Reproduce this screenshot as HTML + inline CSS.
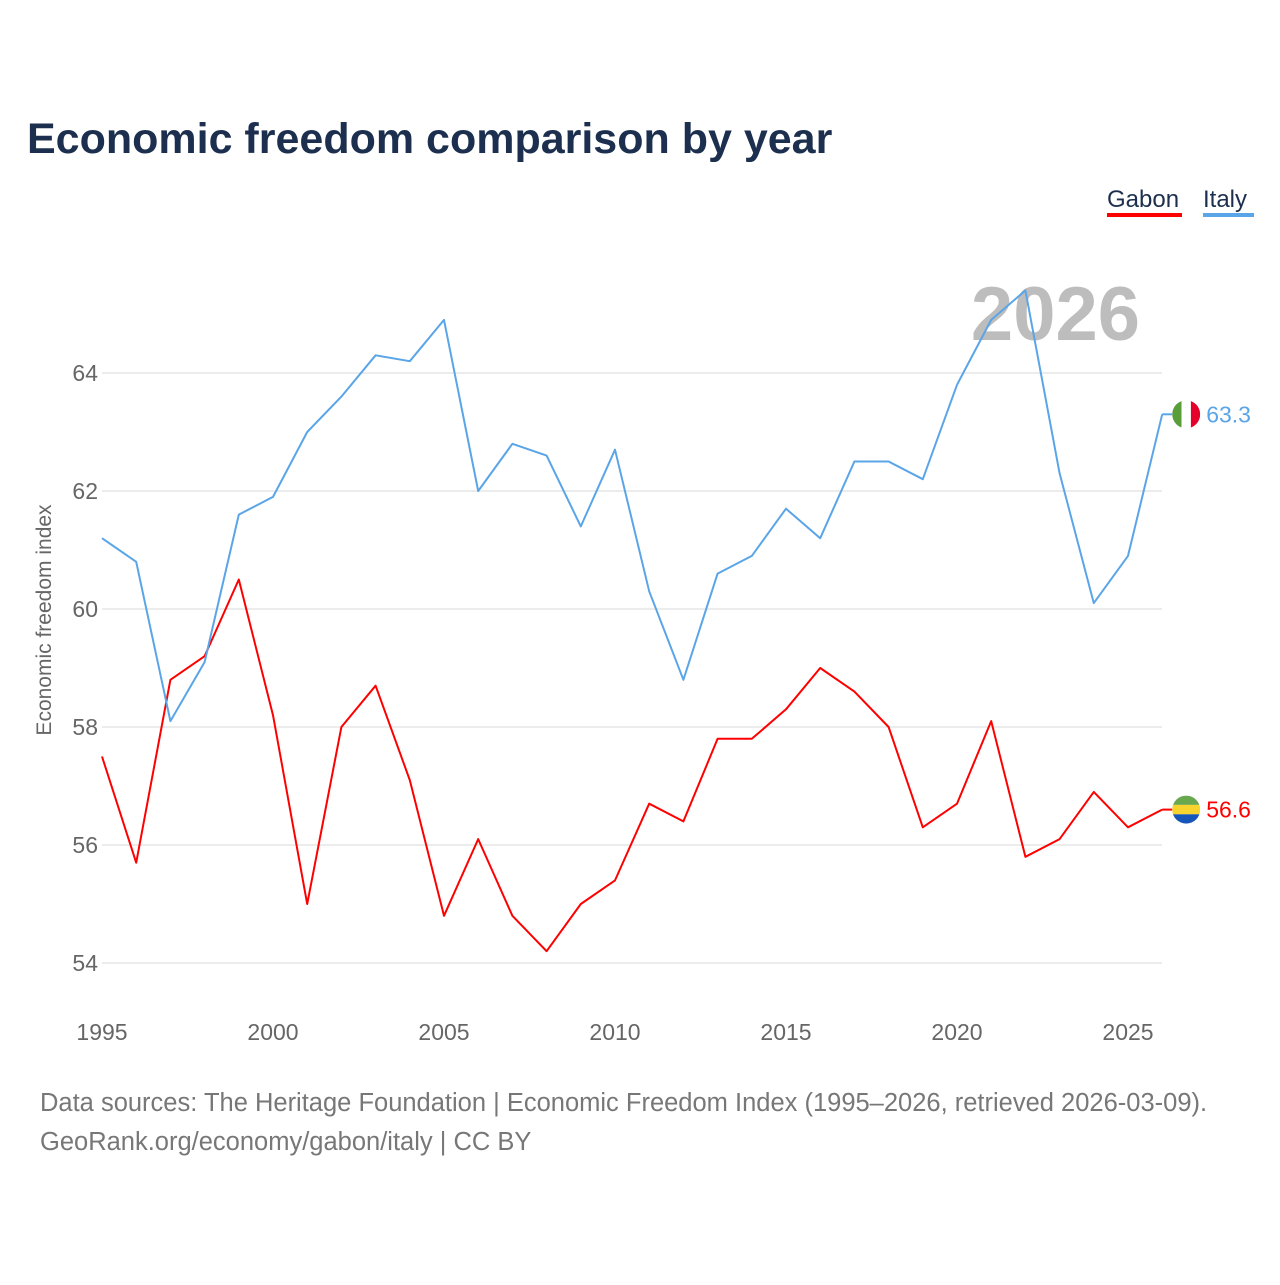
<!DOCTYPE html>
<html><head><meta charset="utf-8"><style>
body{margin:0;background:#fff;font-family:"Liberation Sans",sans-serif;}
svg text{font-family:"Liberation Sans",sans-serif;}
</style></head><body>
<svg width="1280" height="1280" xmlns="http://www.w3.org/2000/svg">
<defs>
<clipPath id="ci"><circle id="cic" cx="0" cy="0" r="14"/></clipPath>
<clipPath id="cg"><circle id="cgc" cx="0" cy="0" r="14"/></clipPath>
</defs>
<rect width="1280" height="1280" fill="#fff"/>
<text x="27" y="153" font-size="43" font-weight="bold" fill="#1c2f4e">Economic freedom comparison by year</text>
<g><text x="1107" y="207" font-size="24" fill="#1c2f4e">Gabon</text><rect x="1107" y="213" width="75" height="4" fill="#f00"/></g>
<g><text x="1203" y="207" font-size="24" fill="#1c2f4e">Italy</text><rect x="1203" y="213" width="51" height="4" fill="#5aa5e8"/></g>
<text x="1140" y="340" font-size="76" font-weight="bold" fill="#bdbdbd" text-anchor="end">2026</text>
<text transform="translate(51,620) rotate(-90)" font-size="21" fill="#666" text-anchor="middle">Economic freedom index</text>
<g id="grid"></g><g id="xt"></g><g id="lines"></g>
<text x="40" y="1111" font-size="25.5" fill="#777">Data sources: The Heritage Foundation | Economic Freedom Index (1995–2026, retrieved 2026-03-09).</text>
<text x="40" y="1150" font-size="25.5" fill="#777">GeoRank.org/economy/gabon/italy | CC BY</text>
</svg>
<script>
const years=[1995,1996,1997,1998,1999,2000,2001,2002,2003,2004,2005,2006,2007,2008,2009,2010,2011,2012,2013,2014,2015,2016,2017,2018,2019,2020,2021,2022,2023,2024,2025,2026];
const italy=[61.2,60.8,58.1,59.1,61.6,61.9,63.0,63.6,64.3,64.2,64.9,62.0,62.8,62.6,61.4,62.7,60.3,58.8,60.6,60.9,61.7,61.2,62.5,62.5,62.2,63.8,64.9,65.4,62.3,60.1,60.9,63.3];
const gabon=[57.5,55.7,58.8,59.2,60.5,58.2,55.0,58.0,58.7,57.1,54.8,56.1,54.8,54.2,55.0,55.4,56.7,56.4,57.8,57.8,58.3,59.0,58.6,58.0,56.3,56.7,58.1,55.8,56.1,56.9,56.3,56.6];
const yTicks=[54,56,58,60,62,64];
const xTicks=[1995,2000,2005,2010,2015,2020,2025];
const NS="http://www.w3.org/2000/svg";
const X=y=>102+(y-1995)*34.2;
const Y=v=>373+(64-v)*59;
function mk(t,a,p){const e=document.createElementNS(NS,t);for(const k in a)e.setAttribute(k,a[k]);p.appendChild(e);return e;}
const grid=document.getElementById('grid');
yTicks.forEach(v=>{
 const l=mk('line',{x1:102,x2:1162,y1:Y(v),y2:Y(v),stroke:'#e6e6e6','stroke-width':1.5},grid);
 
 
 const t=mk('text',{x:98,y:Y(v)+8,'font-size':23,fill:'#666','text-anchor':'end'},grid);t.textContent=v;
 
 
});
const xt=document.getElementById('xt');
xTicks.forEach(v=>{
 const t=mk('text',{x:X(v),y:1040,'font-size':23,fill:'#666','text-anchor':'middle'},xt);t.textContent=v;
 
 
});
const lines=document.getElementById('lines');
function series(vals,col,name){
 const p=mk('polyline',{points:vals.map((v,i)=>X(years[i])+','+Y(v)).join(' '),fill:'none',stroke:col,'stroke-width':2,'stroke-linejoin':'round'},lines);
 
 
 const n=vals.length-1,ex=X(years[n])+24,ey=Y(vals[n]);
 mk('line',{x1:X(years[n]),x2:ex-14,y1:ey,y2:ey,stroke:col,'stroke-width':2},lines);
 const t=mk('text',{x:ex+20,y:ey+8,'font-size':23,fill:col},lines);t.textContent=vals[n].toFixed(1);
 
 
 return [ex,ey];
}
const [gx,gy]=series(gabon,'#f00','gabon');
const [ix,iy]=series(italy,'#5aa5e8','italy');
document.getElementById('cic').setAttribute('cx',ix);document.getElementById('cic').setAttribute('cy',iy);
document.getElementById('cgc').setAttribute('cx',gx);document.getElementById('cgc').setAttribute('cy',gy);
const fi=mk('g',{'clip-path':'url(#ci)'},lines);


mk('rect',{x:ix-14,y:iy-14,width:9.3,height:28,fill:'#5a9e3a'},fi);
mk('rect',{x:ix-4.7,y:iy-14,width:9.4,height:28,fill:'#fff'},fi);
mk('rect',{x:ix+4.7,y:iy-14,width:9.3,height:28,fill:'#e4002b'},fi);
const fg=mk('g',{'clip-path':'url(#cg)'},lines);


mk('rect',{x:gx-14,y:gy-14,width:28,height:9.3,fill:'#6aa84f'},fg);
mk('rect',{x:gx-14,y:gy-4.7,width:28,height:9.4,fill:'#f6d32d'},fg);
mk('rect',{x:gx-14,y:gy+4.7,width:28,height:9.3,fill:'#1656b8'},fg);
</script>
</body></html>
